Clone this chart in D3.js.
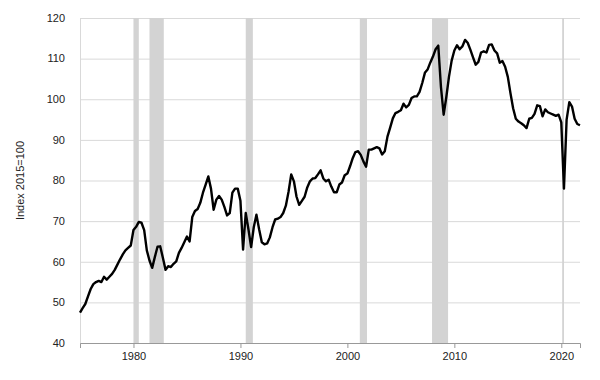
<!DOCTYPE html>
<html>
<head>
<meta charset="utf-8">
<script src="https://cdn.jsdelivr.net/npm/d3@7"></script>
<style>
  body { margin: 0; background: #fff; }
  svg { display: block; font-family: "Liberation Sans", Arial, sans-serif; }
</style>
</head>
<body>
<svg id="chart" width="600" height="380"></svg>
<script>
// Quarterly observations, first quarter = 1975 Q1
const startYear = 1975;
const values = [
  47.5, 48.6, 49.6, 51.5,   // 1975
  53.3, 54.5, 55.0, 55.3,   // 1976
  55.0, 56.3, 55.6, 56.3,   // 1977
  57.0, 58.0, 59.3, 60.6,   // 1978
  61.8, 62.8, 63.4, 64.0,   // 1979
  67.8, 68.6, 69.8, 69.6,   // 1980
  67.8, 62.8, 60.3, 58.5,   // 1981
  61.2, 63.7, 63.8, 61.0,   // 1982
  58.0, 58.9, 58.7, 59.5,   // 1983
  60.1, 62.2, 63.4, 64.8,   // 1984
  66.2, 65.0, 71.0, 72.5,   // 1985
  73.0, 74.5, 77.0, 79.0,   // 1986
  81.0, 78.0, 72.8, 75.3,   // 1987
  76.2, 75.3, 73.5, 71.4,   // 1988
  72.0, 77.0, 78.0, 78.0,   // 1989
  75.0, 63.0, 72.0, 68.0,   // 1990
  63.6, 68.5, 71.6, 68.0,   // 1991
  64.8, 64.3, 64.5, 66.0,   // 1992
  68.5, 70.4, 70.6, 71.0,   // 1993
  72.0, 73.8, 77.2, 81.5,   // 1994
  79.8, 76.0, 74.0, 75.0,   // 1995
  76.0, 78.3, 79.8, 80.5,   // 1996
  80.6, 81.5, 82.5, 80.5,   // 1997
  79.8, 80.2, 78.5, 77.1,   // 1998
  77.1, 79.0, 79.5, 81.3,   // 1999
  81.7, 83.5, 85.5, 87.0,   // 2000
  87.2, 86.3, 84.7, 83.4,   // 2001
  87.6, 87.6, 87.9, 88.2,   // 2002
  87.9, 86.4, 87.2, 90.8,   // 2003
  93.0, 95.3, 96.6, 96.9,   // 2004
  97.3, 98.9, 98.0, 98.6,   // 2005
  100.3, 100.7, 100.7, 101.8, // 2006
  104.0, 106.5, 107.3, 109.0, // 2007
  110.5, 112.3, 113.2, 103.0, // 2008
  96.2, 100.5, 105.5, 109.5,  // 2009
  112.0, 113.3, 112.3, 113.0, // 2010
  114.6, 113.9, 112.2, 110.3, // 2011
  108.5, 109.2, 111.5, 111.8, // 2012
  111.5, 113.4, 113.5, 112.0, // 2013
  111.3, 109.0, 109.4, 108.0, // 2014
  105.5, 101.5, 97.8, 95.2,   // 2015
  94.5, 94.1, 93.6, 92.9,     // 2016
  95.2, 95.4, 96.4, 98.5,     // 2017
  98.3, 95.8, 97.5, 96.8,     // 2018
  96.5, 96.2, 95.9, 96.2,     // 2019
  94.3, 78.0, 95.0, 99.3,     // 2020
  98.2, 95.2, 93.9, 93.6      // 2021
];

const recessionStarts = ["1980-01-01", "1981-07-01", "1990-07-01", "2001-03-01", "2007-12-01", "2020-02-01"];
const recessionEnds   = ["1980-07-01", "1982-11-01", "1991-03-01", "2001-11-01", "2009-06-01", "2020-04-01"];

const yTicks = [40, 50, 60, 70, 80, 90, 100, 110, 120];
const xTickYears = [1980, 1990, 2000, 2010, 2020];
const yLabel = "Index 2015=100";

const W = 600, H = 380;
const margin = { top: 18, right: 20, bottom: 37, left: 80 };
const svg = d3.select("#chart");

const parse = d3.utcParse("%Y-%m-%d");
const data = values.map((v, i) => ({
  date: d3.utcMonth.offset(new Date(Date.UTC(startYear, 0, 1)), i * 3),
  value: v
}));

const x = d3.scaleUtc()
  .domain(d3.extent(data, d => d.date))
  .range([margin.left, W - margin.right]);
const y = d3.scaleLinear()
  .domain([40, 120])
  .range([H - margin.bottom, margin.top]);

// horizontal grid
svg.append("g")
  .selectAll("line")
  .data(yTicks)
  .join("line")
  .attr("x1", margin.left).attr("x2", W - margin.right)
  .attr("y1", d => y(d) + 0.5).attr("y2", d => y(d) + 0.5)
  .attr("stroke", "#d9d9d9").attr("stroke-width", 1);

// recession shading
svg.append("g")
  .selectAll("rect")
  .data(recessionStarts.map((s, i) => [parse(s), parse(recessionEnds[i])]))
  .join("rect")
  .attr("x", d => x(d[0]))
  .attr("width", d => Math.max(1.5, x(d[1]) - x(d[0])))
  .attr("y", margin.top)
  .attr("height", H - margin.bottom - margin.top)
  .attr("fill", "#d3d3d3");

// left light border
svg.append("line")
  .attr("x1", margin.left + 0.5).attr("x2", margin.left + 0.5)
  .attr("y1", margin.top).attr("y2", H - margin.bottom)
  .attr("stroke", "#d9d9d9");

// y tick labels
svg.append("g")
  .selectAll("text")
  .data(yTicks)
  .join("text")
  .attr("x", margin.left - 15)
  .attr("y", d => y(d))
  .attr("dy", "0.35em")
  .attr("text-anchor", "end")
  .attr("font-size", 11)
  .attr("fill", "#222")
  .text(d => d);

// x axis
const xAxis = d3.axisBottom(x)
  .tickValues(xTickYears.map(yr => new Date(Date.UTC(yr, 0, 1))))
  .tickFormat(d3.utcFormat("%Y"))
  .tickSizeOuter(0)
  .tickSize(5)
  .tickPadding(4);
const gx = svg.append("g")
  .attr("transform", `translate(0,${H - margin.bottom})`)
  .call(xAxis);
gx.select(".domain").attr("stroke", "#999");
gx.selectAll(".tick line").attr("stroke", "#999");
gx.selectAll(".tick text")
  .attr("font-size", 11)
  .attr("font-family", "Liberation Sans, Arial, sans-serif")
  .attr("fill", "#222");

// y axis title
svg.append("text")
  .attr("transform", `translate(24,${(margin.top + H - margin.bottom) / 2}) rotate(-90)`)
  .attr("text-anchor", "middle")
  .attr("font-size", 11)
  .attr("fill", "#222")
  .text(yLabel);

// line
const line = d3.line()
  .x(d => x(d.date))
  .y(d => y(d.value));
svg.append("path")
  .datum(data)
  .attr("fill", "none")
  .attr("stroke", "#000")
  .attr("stroke-width", 2.4)
  .attr("stroke-linejoin", "round")
  .attr("d", line);
</script>
</body>
</html>
